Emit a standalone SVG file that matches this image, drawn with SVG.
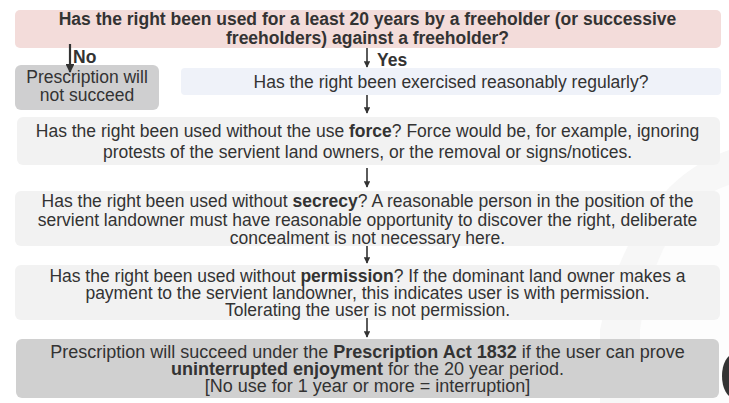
<svg xmlns="http://www.w3.org/2000/svg" width="729" height="403" viewBox="0 0 729 403">
<defs>
<marker id="ah" viewBox="0 0 10 10" refX="9" refY="5" markerWidth="4" markerHeight="4" orient="auto" markerUnits="strokeWidth">
<path d="M0,0 L10,5 L0,10 z" fill="#333"/>
</marker>
<style>
text{font-family:"Liberation Sans",Arial,sans-serif;font-size:17.5px;fill:#333;text-anchor:middle}
.b{font-weight:bold}
.l{text-anchor:start}
.big{font-size:18px}
.conn line{stroke:#333;stroke-width:1.6;marker-end:url(#ah)}
</style>
</defs>
<rect width="729" height="403" fill="#fff"/>
<g id="bg">
<path d="M729,150 C670,170 620,230 600,330 L600,403 L729,403 Z" fill="#f7f7f7"/>
<path d="M729,185 C680,200 650,260 640,330 L640,403 L729,403 Z" fill="#fdfdfd"/>
<ellipse cx="734" cy="376" rx="12" ry="22" fill="#333"/>
</g>
<g id="q1">
<rect x="15" y="10" width="706" height="38" rx="5" fill="#f3dcda"/>
<text x="367.5" y="25" class="b">Has the right been used for a least 20 years by a freeholder (or successive</text>
<text x="367.5" y="44" class="b">freeholders) against a freeholder?</text>
</g>
<g id="fail">
<rect x="15" y="65" width="144" height="45" rx="6" fill="#cfcfd0"/>
<text x="87" y="83">Prescription will</text>
<text x="87" y="101">not succeed</text>
</g>
<g id="q2">
<rect x="181" y="68" width="540" height="27" rx="4" fill="#eff2f9"/>
<text x="451" y="88">Has the right been exercised reasonably regularly?</text>
</g>
<g id="q3">
<rect x="17" y="117" width="703" height="48" rx="6" fill="#f2f2f2"/>
<text x="367.5" y="137">Has the right been used without the use <tspan class="b">force</tspan>? Force would be, for example, ignoring</text>
<text x="367.5" y="158">protests of the servient land owners, or the removal or signs/notices.</text>
</g>
<g id="q4">
<rect x="15" y="191" width="705" height="55" rx="6" fill="#f2f2f2"/>
<text x="367.5" y="207">Has the right been used without <tspan class="b">secrecy</tspan>? A reasonable person in the position of the</text>
<text x="367.5" y="226">servient landowner must have reasonable opportunity to discover the right, deliberate</text>
<text x="367.5" y="244">concealment is not necessary here.</text>
</g>
<g id="q5">
<rect x="15" y="265" width="705" height="55" rx="6" fill="#f2f2f2"/>
<text x="367.5" y="282">Has the right been used without <tspan class="b">permission</tspan>? If the dominant land owner makes a</text>
<text x="367.5" y="299">payment to the servient landowner, this indicates user is with permission.</text>
<text x="367.5" y="316">Tolerating the user is not permission.</text>
</g>
<g id="result">
<rect x="16" y="339" width="703" height="59" rx="6" fill="#d0d0d0"/>
<text x="367.5" y="358" class="big">Prescription will succeed under the <tspan class="b">Prescription Act 1832</tspan> if the user can prove</text>
<text x="367.5" y="375" class="big"><tspan class="b">uninterrupted enjoyment</tspan> for the 20 year period.</text>
<text x="367.5" y="392" class="big">[No use for 1 year or more = interruption]</text>
</g>
<g class="conn">
<line x1="70" y1="44" x2="70" y2="72" style="stroke-width:2.2"/>
<line x1="367" y1="48" x2="367" y2="67"/>
<line x1="367" y1="95" x2="367" y2="113"/>
<line x1="367" y1="168" x2="367" y2="187"/>
<line x1="367" y1="246" x2="367" y2="263"/>
<line x1="367" y1="318" x2="367" y2="337"/>
</g>
<g id="labels">
<text x="73" y="63" class="b l">No</text>
<text x="377" y="66" class="b l">Yes</text>
</g>
</svg>
